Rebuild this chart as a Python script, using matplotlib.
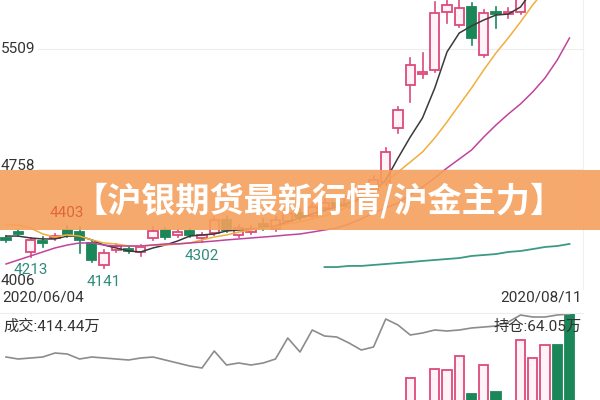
import matplotlib
matplotlib.use("Agg")
import matplotlib.pyplot as plt
from matplotlib.patches import Rectangle

# ---------------- data ----------------
dates = ["2020/06/04", "2020/08/11"]
opens  = [4330, 4367, 4243, 4311, 4330, 4380, 4367, 4299, 4162, 4255,
          4261, 4243, 4330, 4380, 4349, 4374, 4330, 4361, 4442, 4349,
          4367, 4417, 4386, 4436, 4486, 4467, 4517, 4548, 4529, 4585,
          4629, 4679, 5015, 5283, 5352, 5377, 5738, 5657, 5769, 5470,
          5738, 5725, 5738, 5844, 6031, 6249, 6150]
highs  = [4342, 4380, 4330, 4336, 4355, 4403, 4398, 4318, 4255, 4293,
          4280, 4286, 4398, 4392, 4380, 4386, 4361, 4461, 4461, 4411,
          4405, 4448, 4461, 4504, 4511, 4542, 4573, 4567, 4610, 4654,
          4716, 4891, 5146, 5451, 5483, 5800, 5813, 5825, 5794, 5750,
          5769, 5763, 5875, 6062, 6280, 6290, 6200]
lows   = [4305, 4342, 4213, 4274, 4318, 4336, 4237, 4180, 4141, 4243,
          4237, 4218, 4318, 4324, 4336, 4336, 4302, 4349, 4367, 4336,
          4355, 4380, 4374, 4423, 4442, 4455, 4498, 4511, 4517, 4573,
          4610, 4660, 4984, 5177, 5327, 5364, 5669, 5645, 5532, 5458,
          5638, 5701, 5725, 5862, 6049, 6110, 5950]
closes = [4318, 4355, 4318, 4299, 4342, 4355, 4318, 4193, 4237, 4280,
          4249, 4274, 4374, 4336, 4367, 4349, 4349, 4442, 4380, 4392,
          4386, 4398, 4442, 4486, 4461, 4523, 4548, 4529, 4585, 4629,
          4691, 4866, 5127, 5408, 5364, 5732, 5782, 5763, 5576, 5732,
          5725, 5738, 5844, 6031, 6249, 6150, 5980]

ma5  = [4342, 4342, 4330, 4324, 4324, 4342, 4342, 4318, 4286, 4268,
        4249, 4243, 4268, 4286, 4311, 4342, 4349, 4355, 4374, 4380,
        4386, 4392, 4405, 4430, 4455, 4480, 4504, 4523, 4548, 4579,
        4617, 4691, 4828, 4959, 5078, 5264, 5489, 5607, 5651, 5688,
        5719, 5725, 5769, 5875, 5968, 6062, 6124]
ma10 = [4411, 4411, 4392, 4355, 4336, 4349, 4342, 4318, 4299, 4293,
        4280, 4280, 4286, 4286, 4293, 4299, 4318, 4336, 4349, 4367,
        4380, 4392, 4398, 4417, 4430, 4448, 4467, 4492, 4529, 4573,
        4617, 4679, 4741, 4803, 4866, 4953, 5053, 5159, 5264, 5377,
        5483, 5576, 5676, 5782, 5875, 5968, 6062]
ma20 = [4168, 4193, 4218, 4243, 4268, 4286, 4299, 4299, 4286, 4280,
        4280, 4280, 4286, 4293, 4293, 4299, 4305, 4311, 4318, 4324,
        4330, 4336, 4342, 4349, 4355, 4367, 4380, 4392, 4417, 4448,
        4486, 4517, 4548, 4598, 4648, 4704, 4766, 4822, 4878, 4959,
        5034, 5102, 5165, 5240, 5327, 5439, 5576]
ma60_start = 26
ma60 = [4149, 4149, 4156, 4156, 4162, 4168, 4174, 4180, 4187, 4193,
        4199, 4205, 4218, 4224, 4230, 4243, 4249, 4261, 4274, 4280, 4293]

volumes = [72, 65, 80, 70, 62, 85, 90, 95, 88, 70,
           60, 58, 75, 68, 55, 60, 64, 92, 80, 66,
           58, 62, 70, 98, 85, 100, 90, 82, 88, 84,
           95, 120, 115, 202, 114, 232, 228, 274, 150, 245,
           157, 114, 326, 268, 310, 310, 414.44]
open_interest = [61.90, 61.80, 61.85, 61.90, 62.10, 62.05, 61.80, 61.90, 61.85, 61.80,
                 61.75, 61.85, 61.90, 61.75, 61.60, 61.45, 61.35, 62.20, 61.50, 61.60,
                 61.50, 61.60, 61.80, 62.85, 62.15, 63.25, 62.95, 62.90, 62.60, 62.25,
                 62.40, 63.80, 63.50, 63.00, 63.10, 63.25, 63.20, 63.25, 63.35, 63.40,
                 63.45, 63.65, 64.00, 63.90, 63.90, 64.00, 64.05]

price_ticks = [5509, 4758, 4006]
hi_label = (5, 4403)
lo_labels = [(2, 4213), (8, 4141), (16, 4302)]
banner_text = "【沪银期货最新行情/沪金主力】"
vol_text = "成交:414.44万"
oi_text = "持仓:64.05万"

UP = "#DC4A7C"
UP_FILL = "#FFF3F7"
DOWN = "#1B8759"
NUM_FONT = ["Roboto", "Noto Sans CJK SC", "DejaVu Sans"]

# ---------------- figure ----------------
W, H = 600, 400
fig = plt.figure(figsize=(6, 4), dpi=100)
fig.patch.set_facecolor("white")

step = 12.25
x0 = 6.0
xlim = (-x0 / step, (W - x0) / step)
pmin = 4006
ppx = 6.23
pmax = pmin + 290 * ppx

ax = fig.add_axes([0, 110 / H, 1, 290 / H])
ax.set_xlim(*xlim)
ax.set_ylim(pmin, pmax)
ax.axis("off")

# grid lines
for p in price_ticks:
    ax.axhline(p, xmin=38 / W, xmax=583 / W, color="#EDEDED", lw=0.8, zorder=0)
ax.axvline(xlim[0] + 583 / step, color="#F0F0F0", lw=0.8, zorder=0)

n = len(opens)
bw = 0.74
for i in range(n):
    o, h, l, c = opens[i], highs[i], lows[i], closes[i]
    up = c >= o
    col = UP if up else DOWN
    top, bot = max(o, c), min(o, c)
    ax.plot([i, i], [top, h], color=col, lw=1.2, zorder=3)
    ax.plot([i, i], [l, bot], color=col, lw=1.2, zorder=3)
    if top - bot < 8:
        ax.plot([i - bw / 2, i + bw / 2], [(top + bot) / 2] * 2, color=col, lw=1.6, zorder=3)
    else:
        ax.add_patch(Rectangle((i - bw / 2, bot), bw, top - bot,
                               facecolor=UP_FILL if up else DOWN,
                               edgecolor=col, lw=1.3, zorder=4))

xs = list(range(n))
ax.plot(xs, ma5, color="#3A3A3A", lw=1.1, zorder=5)
ax.plot(xs, ma10, color="#F2AE3C", lw=1.1, zorder=5)
ax.plot(xs, ma20, color="#C0449C", lw=1.1, zorder=5)
ax.plot(list(range(ma60_start, ma60_start + len(ma60))), ma60, color="#3B9A84", lw=1.3, zorder=5)

# price labels
ax.text(xlim[0] + 0.5 / step, price_ticks[0], str(price_ticks[0]), ha="left", va="center",
        fontsize=11, color="#333333", family=NUM_FONT, zorder=6)
ax.text(xlim[0] + 0.5 / step, price_ticks[2] + 1.5 * ppx, str(price_ticks[2]), ha="left",
        va="bottom", fontsize=11, color="#333333", family=NUM_FONT, zorder=6)

for (k, v) in lo_labels:
    ax.text(k, v - 6.5 * ppx, str(v), ha="center", va="top", fontsize=11,
            color="#2F8C7C", family=NUM_FONT, zorder=6)

# banner
fig.patches.append(Rectangle((0, 1 - 230 / H), 1, 60 / H, transform=fig.transFigure,
                             facecolor="#F6A05C", edgecolor="none", alpha=0.9, zorder=10))
fig.text(0.5 / W, 1 - 166 / H, str(price_ticks[1]), ha="left", va="center",
         fontsize=11, color="#333333", family=NUM_FONT, zorder=11)
k, v = hi_label
fig.text((x0 + step * k) / W, 1 - 213 / H, str(v), ha="center", va="center",
         fontsize=11, color="#E0663A", family=NUM_FONT, zorder=11)
fig.text(319 / W, 1 - 201 / H, banner_text, ha="center", va="center", fontsize=24.6,
         color="white", fontweight="heavy", family=["Noto Sans CJK SC", "DejaVu Sans"], zorder=12)

# dates
fig.text(2 / W, 1 - 297 / H, dates[0], ha="left", va="center", fontsize=11,
         color="#333333", family=NUM_FONT)
fig.text(582 / W, 1 - 297 / H, dates[1], ha="right", va="center", fontsize=11,
         color="#333333", family=NUM_FONT)
fig.lines.append(plt.Line2D([0, 583 / W], [1 - 313 / H] * 2, transform=fig.transFigure,
                            color="#EDEDED", lw=0.8))

# volume panel
axv = fig.add_axes([0, -40 / H, 1, 127 / H])
axv.set_xlim(*xlim)
axv.set_ylim(0, max(volumes))
axv.axis("off")
for i in range(n):
    up = closes[i] >= opens[i]
    axv.add_patch(Rectangle((i - bw / 2, 0), bw, volumes[i],
                            facecolor=UP_FILL if up else DOWN,
                            edgecolor=UP if up else DOWN, lw=1.3, zorder=3))

axo = fig.add_axes([0, -40 / H, 1, 127 / H], frameon=False)
axo.set_xlim(*xlim)
axo.set_ylim(64.10 - 127 * 0.05, 64.10)
axo.axis("off")
axo.plot(xs, open_interest, color="#8C8C8C", lw=1.2, zorder=4)

fig.text(3 / W, 1 - 327 / H, vol_text, ha="left", va="center", fontsize=11,
         color="#333333", family=NUM_FONT)
fig.text(582 / W, 1 - 327 / H, oi_text, ha="right", va="center", fontsize=11,
         color="#333333", family=NUM_FONT, zorder=10)

fig.savefig("out.png", dpi=100)
